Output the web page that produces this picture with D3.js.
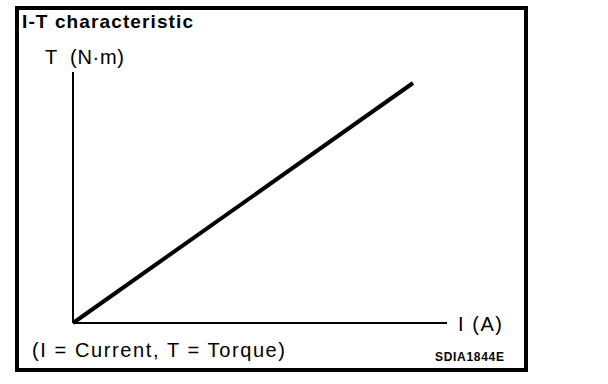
<!DOCTYPE html>
<html><head><meta charset="utf-8">
<script src="https://cdn.jsdelivr.net/npm/d3@7"></script>
<style>body{margin:0;background:#fff}svg{display:block}</style>
</head><body><svg id="c" width="608" height="384"></svg>
<script>
const current = [0, 100];
const torque = [0, 100];
const title = "I-T characteristic";
const yLabel = "T  (N\u00b7m)";
const xLabel = "I (A)";
const note = "(I = Current, T = Torque)";
const code = "SDIA1844E";

const svg = d3.select("#c");
svg.append("rect").attr("x",17).attr("y",8).attr("width",509).attr("height",362)
  .attr("fill","none").attr("stroke","#000").attr("stroke-width",4);

const x = d3.scaleLinear().domain([0,100]).range([73,413]);
const y = d3.scaleLinear().domain([0,100]).range([323,83]);

svg.append("line").attr("x1",73).attr("x2",447).attr("y1",323).attr("y2",323).attr("stroke","#000").attr("stroke-width",2);
svg.append("line").attr("x1",73).attr("x2",73).attr("y1",323).attr("y2",72).attr("stroke","#000").attr("stroke-width",2);

const pts = current.map((c,i)=>[c,torque[i]]);
svg.append("path").attr("d", d3.line().x(d=>x(d[0])).y(d=>y(d[1]))(pts))
  .attr("fill","none").attr("stroke","#000").attr("stroke-width",4);

const f = "Liberation Sans, Arial, sans-serif";
function txt(s, x0, y0, size, w, bold){
  return svg.append("text").attr("x",x0).attr("y",y0).attr("font-family",f)
    .attr("font-size",size).attr("font-weight",bold?"bold":"normal")
    .attr("textLength",w).attr("lengthAdjust","spacing")
    .style("white-space","pre").text(s);
}
txt(title, 22, 28, 19, 171, true);
txt(yLabel, 45, 64, 20, 79, false);
txt(xLabel, 458, 331, 20, 44, false);
txt(note, 32, 357, 20, 253, false);
txt(code, 435, 361, 12, 69, true);
// bullet dot in N·m drawn as text glyph above
</script></body></html>
